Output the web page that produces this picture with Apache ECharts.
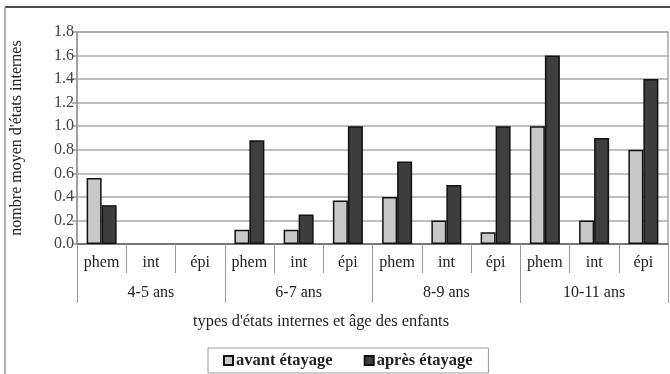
<!DOCTYPE html>
<html>
<head>
<meta charset="utf-8">
<script src="https://cdn.jsdelivr.net/npm/echarts@6/dist/echarts.min.js"></script>
<style>html,body{margin:0;padding:0;background:#fff}#c{width:670px;height:374px}</style>
</head>
<body>
<div id="c"></div>
<script>
const types = ['phem','int','épi','phem','int','épi','phem','int','épi','phem','int','épi'];
const ages = ['4-5 ans','6-7 ans','8-9 ans','10-11 ans'];
const avant = [0.56, null, null, 0.12, 0.12, 0.37, 0.4, 0.2, 0.1, 1.0, 0.2, 0.8];
const apres = [0.33, null, null, 0.88, 0.25, 1.0, 0.7, 0.5, 1.0, 1.6, 0.9, 1.4];
const yTicks = ['0.0','0.2','0.4','0.6','0.8','1.0','1.2','1.4','1.6','1.8'];
const seriesNames = ['avant étayage','après étayage'];
const yTitle = "nombre moyen d'états internes";
const xTitle = "types d'états internes et âge des enfants";

const FONT = 'Liberation Serif';
const FS = 16;
const chart = echarts.init(document.getElementById('c'), null, {renderer:'canvas'});
chart.setOption({
  animation:false,
  textStyle:{fontFamily:FONT},
  grid:{left:77, right:2, top:32, bottom:130, show:true, borderColor:'#a8a8a8', borderWidth:1.5},
  graphic:[
    {type:'line', shape:{x1:5,y1:7,x2:670,y2:7}, style:{stroke:'#111', lineWidth:1.5}},
    {type:'line', shape:{x1:5,y1:7,x2:5,y2:374}, style:{stroke:'#999', lineWidth:1.5}},
    {type:'text', left:193, top:314, style:{text:xTitle, font:'16.4px "Liberation Serif"', fill:'#222'}}
  ],
  legend:{
    data:seriesNames, left:208, top:348, orient:'horizontal',
    padding:[4,16,4,15], itemWidth:9, itemHeight:9, itemGap:31,
    borderColor:'#999', borderWidth:1, icon:'rect',
    textStyle:{fontFamily:FONT, fontSize:16.5, fontWeight:'bold', color:'#222', padding:[0,0,0,-2]}
  },
  xAxis:[
    {type:'category', data:types, position:'bottom',
     axisLine:{show:true, lineStyle:{color:'#666', width:1.5}},
     axisTick:{show:true, interval:0, length:29, lineStyle:{color:'#999', width:1}},
     axisLabel:{interval:0, margin:11, color:'#222', fontSize:FS, fontFamily:FONT},
     splitLine:{show:false}},
    {type:'category', data:ages, position:'bottom',
     axisLine:{show:false},
     axisTick:{show:true, interval:0, length:59, lineStyle:{color:'#999', width:1}},
     axisLabel:{interval:0, margin:41, color:'#222', fontSize:FS, fontFamily:FONT},
     splitLine:{show:false}}
  ],
  yAxis:{
    type:'value', min:0, max:1.8, interval:0.2,
    name:yTitle, nameLocation:'middle', nameRotate:90, nameGap:52,
    nameTextStyle:{fontFamily:FONT, fontSize:FS, color:'#222'},
    axisLine:{show:true, lineStyle:{color:'#999', width:1.5}},
    axisTick:{show:true, length:5, lineStyle:{color:'#999', width:1.5}},
    axisLabel:{margin:3, color:'#444', fontSize:FS, fontFamily:FONT,
      formatter:function(v){ return yTicks[Math.round(v/0.2)]; }},
    splitLine:{show:true, lineStyle:{color:'#a8a8a8', width:1.5}}
  },
  series:[
    {name:seriesNames[0], type:'bar', xAxisIndex:0, data:avant, barWidth:15, barGap:'0%',
     itemStyle:{color:'#c8c8c8', borderColor:'#111', borderWidth:1.5}},
    {name:seriesNames[1], type:'bar', xAxisIndex:0, data:apres, barWidth:15, barGap:'0%',
     itemStyle:{color:'#3e3e3e', borderColor:'#111', borderWidth:1.5}}
  ]
});
</script>
</body>
</html>
